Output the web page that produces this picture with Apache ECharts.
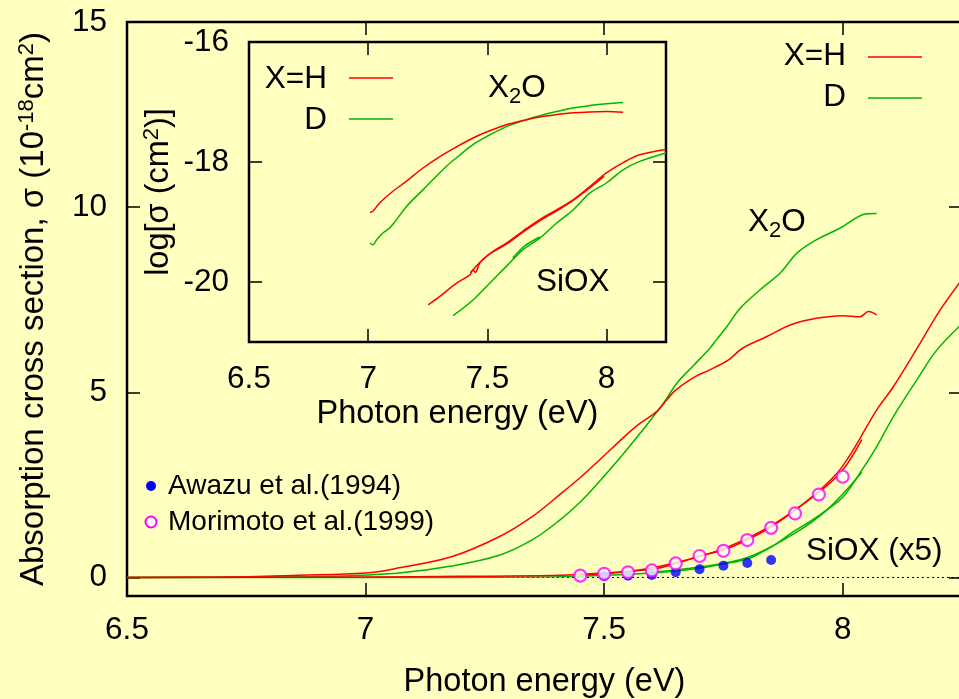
<!DOCTYPE html>
<html><head><meta charset="utf-8">
<script src="https://cdn.jsdelivr.net/npm/echarts@6/dist/echarts.min.js"></script>
<style>html,body{margin:0;padding:0;background:#ffffc0}#c{width:959px;height:699px}</style>
</head><body><div id="c"></div>
<script>
// ---------------- data ----------------
// Main panel: absorption cross section (10^-18 cm^2) vs photon energy (eV)
const x2oH_E = [6.5, 6.7, 6.86, 7.0, 7.07, 7.18, 7.28, 7.35, 7.41, 7.45, 7.48, 7.55, 7.575, 7.61, 7.625, 7.65, 7.69, 7.72, 7.76, 7.79, 7.84, 7.89, 7.945, 8.0, 8.036, 8.054, 8.071];
const x2oH_S = [0.0, 0.01, 0.06, 0.12, 0.26, 0.56, 1.1, 1.65, 2.27, 2.70, 3.05, 3.89, 4.16, 4.48, 4.70, 5.06, 5.42, 5.60, 5.87, 6.19, 6.50, 6.82, 7.0, 7.07, 7.04, 7.18, 7.09];
const x2oD_E = [6.5, 6.8, 6.95, 7.07, 7.18, 7.28, 7.35, 7.407, 7.45, 7.477, 7.547, 7.624, 7.652, 7.687, 7.722, 7.736, 7.757, 7.785, 7.827, 7.869, 7.904, 7.945, 7.994, 8.05, 8.071];
const x2oD_S = [0.0, 0.01, 0.04, 0.12, 0.31, 0.6, 1.02, 1.55, 2.04, 2.40, 3.44, 4.70, 5.24, 5.72, 6.20, 6.43, 6.77, 7.27, 7.77, 8.22, 8.76, 9.12, 9.43, 9.82, 9.83];
const sioxH_E = [6.5, 7.0, 7.2, 7.407, 7.5, 7.6, 7.652, 7.70, 7.75, 7.80, 7.848, 7.896, 7.945, 7.987, 8.015, 8.036, 8.071, 8.106, 8.162, 8.204, 8.25];
const sioxH_S = [0.0, 0.01, 0.03, 0.06, 0.12, 0.22, 0.38, 0.58, 0.74, 1.02, 1.35, 1.78, 2.28, 2.80, 3.30, 3.75, 4.52, 5.15, 6.32, 7.22, 8.05];
const sioxH2_E = [7.45, 7.55, 7.65, 7.75, 7.85, 7.95, 8.0, 8.04];
const sioxH2_S = [0.07, 0.16, 0.40, 0.78, 1.40, 2.30, 2.90, 3.72];
const sioxD_E = [6.5, 7.0, 7.4, 7.6, 7.7, 7.757, 7.8, 7.826, 7.86, 7.896, 7.93, 7.966, 8.001, 8.04, 8.071, 8.106, 8.155, 8.197, 8.25];
const sioxD_S = [0.0, 0.0, 0.02, 0.12, 0.25, 0.38, 0.5, 0.65, 0.9, 1.23, 1.5, 1.82, 2.18, 2.90, 3.53, 4.34, 5.33, 6.14, 6.85];
const sioxD2_E = [7.6, 7.7, 7.8, 7.9, 7.97, 8.04];
const sioxD2_S = [0.14, 0.28, 0.54, 1.20, 1.86, 2.84];
const awazuE = [7.50, 7.55, 7.60, 7.65, 7.70, 7.75, 7.80, 7.85];
const awazuS = [0.035, 0.05, 0.07, 0.14, 0.22, 0.32, 0.39, 0.47];
const morimotoE = [7.45, 7.50, 7.55, 7.60, 7.65, 7.70, 7.75, 7.80, 7.85, 7.90, 7.95, 8.00];
const morimotoS = [0.05, 0.10, 0.14, 0.19, 0.38, 0.58, 0.72, 1.01, 1.34, 1.73, 2.24, 2.72];
const zeroE = [6.5, 8.25];
const zeroS = [0, 0];
// Inset: log10 sigma (cm^2)
const inX2oH_E = [7.007, 7.02, 7.049, 7.10, 7.161, 7.23, 7.301, 7.37, 7.44, 7.51, 7.58, 7.65, 7.72, 7.79, 7.86, 7.93, 8.0, 8.07];
const inX2oH_L = [-18.84, -18.82, -18.68, -18.50, -18.32, -18.10, -17.91, -17.75, -17.60, -17.48, -17.38, -17.31, -17.25, -17.21, -17.18, -17.165, -17.16, -17.17];
const inX2oD_E = [7.007, 7.021, 7.035, 7.063, 7.09, 7.119, 7.161, 7.231, 7.329, 7.38, 7.44, 7.51, 7.58, 7.65, 7.72, 7.79, 7.86, 7.93, 8.0, 8.07];
const inX2oD_L = [-19.35, -19.38, -19.30, -19.18, -19.10, -18.96, -18.74, -18.46, -18.07, -17.90, -17.71, -17.55, -17.41, -17.31, -17.23, -17.16, -17.10, -17.06, -17.03, -17.01];
const inSioxH_E = [7.252, 7.301, 7.371, 7.427, 7.44, 7.45, 7.469, 7.52, 7.58, 7.65, 7.72, 7.79, 7.86, 7.93, 8.0, 8.07, 8.14, 8.25];
const inSioxH_L = [-20.38, -20.24, -20.02, -19.88, -19.80, -19.84, -19.68, -19.50, -19.35, -19.15, -18.96, -18.80, -18.63, -18.41, -18.18, -18.01, -17.88, -17.79];
const inSioxH2_E = [7.43, 7.50, 7.58, 7.65, 7.72, 7.79, 7.86, 7.93, 7.99];
const inSioxH2_L = [-19.84, -19.56, -19.37, -19.17, -18.98, -18.82, -18.64, -18.43, -18.24];
const inSioxD_E = [7.357, 7.44, 7.51, 7.58, 7.65, 7.72, 7.79, 7.86, 7.93, 8.0, 8.07, 8.14, 8.25];
const inSioxD_L = [-20.56, -20.30, -20.02, -19.74, -19.46, -19.27, -19.02, -18.80, -18.52, -18.35, -18.13, -17.99, -17.85];
const inSioxD2_E = [7.607, 7.65, 7.692, 7.72];
const inSioxD2_L = [-19.60, -19.42, -19.31, -19.25];
// tick labels
const mainXTicks = [6.5, 7, 7.5, 8];
const mainYTicks = [0, 5, 10, 15];
const insetXTicks = [6.5, 7, 7.5, 8];
const insetYTicks = [-20, -18, -16];

// ---------------- chart ----------------
const BG = '#ffffc0';
const RED = '#ff0000', GREEN = '#00b400', BLUE = '#0000ff', MAG = '#ff00ff';
const FONT = 'Liberation Sans';
const zip = (a, b) => a.map((v, i) => [v, b[i]]);

function lineSeries(xi, yi, data, color, z) {
  return {type: 'line', xAxisIndex: xi, yAxisIndex: yi, data, symbol: 'none',
    smooth: 0.35, lineStyle: {color, width: 1.5},
    itemStyle: {color}, z: z || 3, silent: true};
}
const tickStyle = {inside: true, length: 13, lineStyle: {color: '#000', width: 1.5}};
function xAx(grid, pos, showLabel, margin, name, nameGap) {
  return {type: 'value', gridIndex: grid, position: pos, min: 6.5, max: 8.25, interval: 0.5,
    axisLine: {show: false, onZero: false},
    axisTick: Object.assign({customValues: mainXTicks}, tickStyle),
    splitLine: {show: false},
    axisLabel: {show: showLabel, customValues: grid === 0 ? mainXTicks : insetXTicks, margin,
      color: '#000', fontFamily: FONT, fontSize: 31.5, formatter: v => String(v)},
    name: name || '', nameLocation: 'middle', nameGap: nameGap || 0,
    nameTextStyle: {color: '#000', fontFamily: FONT, fontSize: 32.5, lineHeight: 36}};
}
function yAx(grid, pos, showLabel, min, max, ticks, margin) {
  return {type: 'value', gridIndex: grid, position: pos, min, max,
    axisLine: {show: false, onZero: false},
    axisTick: Object.assign({customValues: ticks}, tickStyle),
    splitLine: {show: false},
    axisLabel: {show: showLabel, customValues: ticks, margin, color: '#000', fontFamily: FONT, fontSize: 31.5}};
}

const yMain = yAx(0, 'left', true, -0.5, 15, mainYTicks, 20);
yMain.name = '{n|Absorption cross section, σ (10}{s|-18}{n|cm}{s|2}{n|)}';
yMain.nameLocation = 'middle';
yMain.nameGap = 75;
yMain.nameRotate = 90;
yMain.nameTextStyle = {color: '#000', fontFamily: FONT, fontSize: 33, rich: {
  n: {fontSize: 33, lineHeight: 36, fontFamily: FONT, color: '#000'},
  s: {fontSize: 22, lineHeight: 18, verticalAlign: 'top', fontFamily: FONT, color: '#000'}}};

const yInset = yAx(1, 'left', true, -21, -16, insetYTicks, 20);
yInset.name = '{n|log[σ (cm}{s|2}{n|)]}';
yInset.nameLocation = 'middle';
yInset.nameGap = 72;
yInset.nameRotate = 90;
yInset.nameTextStyle = {color: '#000', fontFamily: FONT, fontSize: 32.5, rich: {
  n: {fontSize: 32.5, lineHeight: 36, fontFamily: FONT, color: '#000'},
  s: {fontSize: 22, lineHeight: 18, verticalAlign: 'top', fontFamily: FONT, color: '#000'}}};

function label(x, y, text, opts) {
  return Object.assign({type: 'text', x, y, z: 50, style: Object.assign({text, fill: '#000',
    font: '31.5px ' + FONT, align: 'left', verticalAlign: 'middle'}, opts || {})});
}
const subRich = {
  a: {fontSize: 31.5, lineHeight: 40, fontFamily: FONT, fill: '#000'},
  b: {fontSize: 22, lineHeight: 14, verticalAlign: 'bottom', fontFamily: FONT, fill: '#000'}};

const option = {
  backgroundColor: BG,
  animation: false,
  grid: [
    {left: 127, top: 22, width: 835, height: 574, outerBoundsMode: 'none', containLabel: false, show: true, borderColor: '#000', borderWidth: 2.5, backgroundColor: 'transparent'},
    {left: 249, top: 42, width: 417, height: 300, outerBoundsMode: 'none', containLabel: false, show: true, borderColor: '#000', borderWidth: 2.5, backgroundColor: BG}
  ],
  xAxis: [
    xAx(0, 'bottom', true, 18, 'Photon energy (eV)', 68),
    xAx(0, 'top', false, 0),
    xAx(1, 'bottom', true, 21, 'Photon energy (eV)', 47),
    xAx(1, 'top', false, 0)
  ],
  yAxis: [
    yMain,
    yAx(0, 'right', false, -0.5, 15, mainYTicks, 0),
    yInset,
    yAx(1, 'right', false, -21, -16, insetYTicks, 0)
  ],
  series: [
    {type: 'line', xAxisIndex: 0, yAxisIndex: 0, data: zip(zeroE, zeroS), symbol: 'none',
      lineStyle: {color: '#000', width: 1, type: [2, 3]}, z: 1, silent: true},
    lineSeries(0, 0, zip(sioxD_E, sioxD_S), GREEN, 3),
    lineSeries(0, 0, zip(sioxD2_E, sioxD2_S), GREEN, 3),
    lineSeries(0, 0, zip(x2oD_E, x2oD_S), GREEN, 3),
    lineSeries(0, 0, zip(sioxH_E, sioxH_S), RED, 4),
    lineSeries(0, 0, zip(sioxH2_E, sioxH2_S), RED, 4),
    lineSeries(0, 0, zip(x2oH_E, x2oH_S), RED, 4),
    {type: 'scatter', xAxisIndex: 0, yAxisIndex: 0, data: zip(awazuE, awazuS), symbol: 'circle',
      symbolSize: 10, itemStyle: {color: BLUE}, z: 5, silent: true},
    {type: 'scatter', xAxisIndex: 0, yAxisIndex: 0, data: zip(morimotoE, morimotoS), symbol: 'circle',
      symbolSize: 12, itemStyle: {color: '#ffffff', borderColor: MAG, borderWidth: 2.2}, z: 6, silent: true},
    lineSeries(2, 2, zip(inX2oD_E, inX2oD_L), GREEN, 3),
    lineSeries(2, 2, zip(inSioxD_E, inSioxD_L), GREEN, 3),
    lineSeries(2, 2, zip(inSioxD2_E, inSioxD2_L), GREEN, 3),
    lineSeries(2, 2, zip(inX2oH_E, inX2oH_L), RED, 4),
    lineSeries(2, 2, zip(inSioxH_E, inSioxH_L), RED, 4),
    lineSeries(2, 2, zip(inSioxH2_E, inSioxH2_L), RED, 4)
  ],
  graphic: [
    // main legend
    label(846, 56, 'X=H', {align: 'right'}),
    {type: 'line', z: 50, shape: {x1: 868, y1: 57, x2: 922, y2: 57}, style: {stroke: RED, lineWidth: 1.5}},
    label(846, 97, 'D', {align: 'right'}),
    {type: 'line', z: 50, shape: {x1: 868, y1: 98, x2: 922, y2: 98}, style: {stroke: GREEN, lineWidth: 1.5}},
    // inset legend
    label(327, 79, 'X=H', {align: 'right'}),
    {type: 'line', z: 50, shape: {x1: 349, y1: 78, x2: 393, y2: 78}, style: {stroke: RED, lineWidth: 1.5}},
    label(327, 120, 'D', {align: 'right'}),
    {type: 'line', z: 50, shape: {x1: 349, y1: 119, x2: 393, y2: 119}, style: {stroke: GREEN, lineWidth: 1.5}},
    // data legend
    {type: 'circle', z: 50, shape: {cx: 151, cy: 486, r: 5}, style: {fill: BLUE}},
    label(168, 486, 'Awazu et al.(1994)', {font: '28px ' + FONT}),
    {type: 'circle', z: 50, shape: {cx: 151, cy: 522, r: 5.5}, style: {fill: '#fff', stroke: MAG, lineWidth: 2}},
    label(168, 522, 'Morimoto et al.(1999)', {font: '28px ' + FONT}),
    // annotations
    label(748, 222, '{a|X}{b|2}{a|O}', {rich: subRich}),
    label(488, 88, '{a|X}{b|2}{a|O}', {rich: subRich}),
    label(536, 282, 'SiOX'),
    label(806, 551, 'SiOX (x5)')
  ]
};
const chart = echarts.init(document.getElementById('c'), null, {renderer: 'canvas'});
chart.setOption(option);
</script></body></html>
